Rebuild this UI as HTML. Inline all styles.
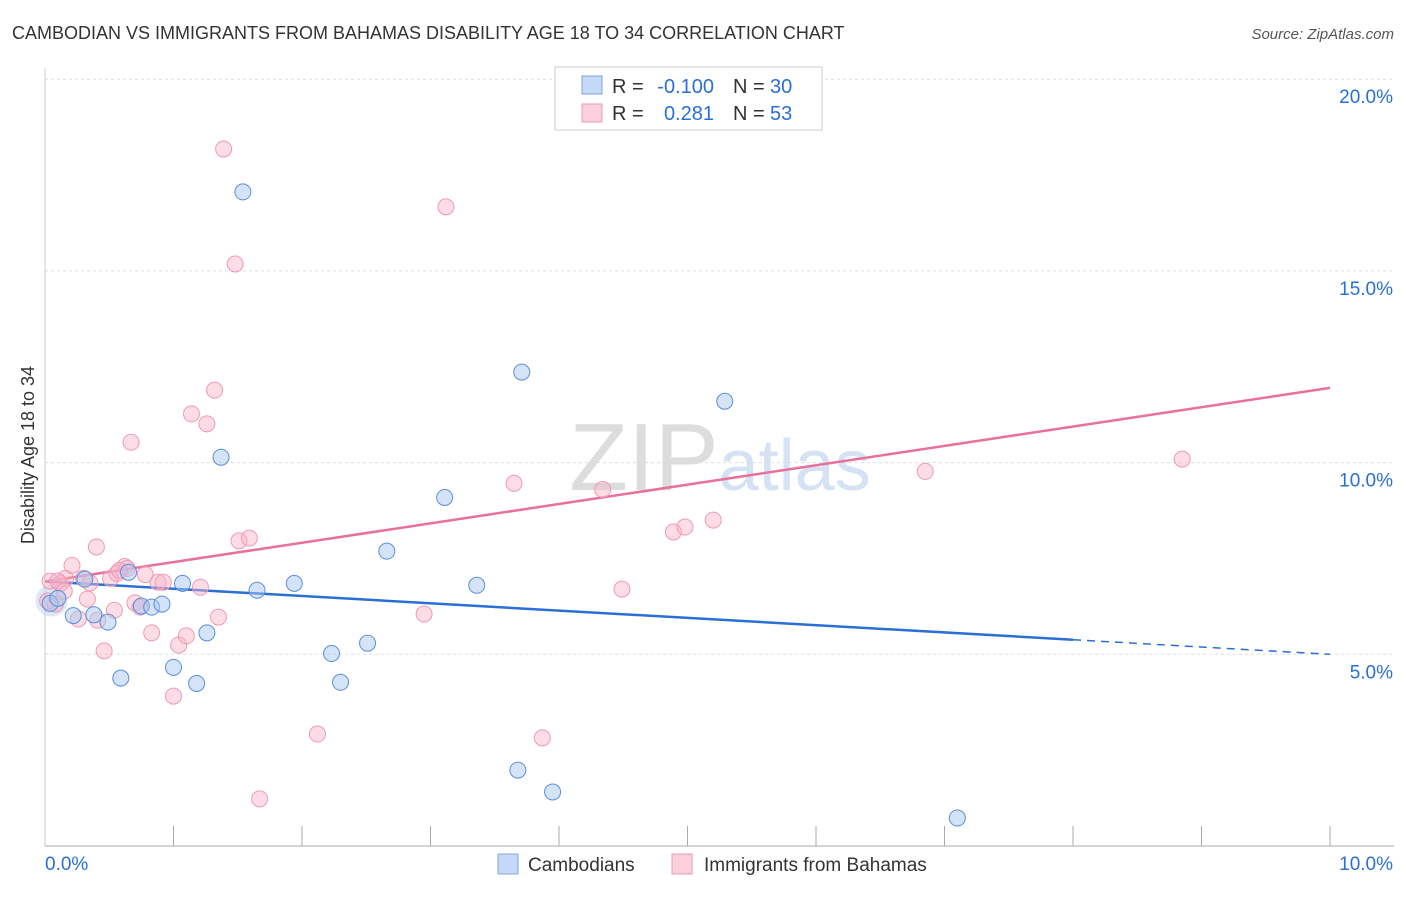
<!DOCTYPE html>
<html><head><meta charset="utf-8"><style>
body{margin:0;background:#fff;font-family:"Liberation Sans",sans-serif;}
svg text{font-family:"Liberation Sans",sans-serif;}
</style></head><body>
<svg id="chart" width="1406" height="892">
<text x="12" y="39" font-size="18" fill="#333">CAMBODIAN VS IMMIGRANTS FROM BAHAMAS DISABILITY AGE 18 TO 34 CORRELATION CHART</text>
<text x="1394" y="39" font-size="15" fill="#555" text-anchor="end" font-style="italic">Source: ZipAtlas.com</text>
<text x="720" y="490" font-size="96" fill="#ddd" text-anchor="middle" font-family="Liberation Serif">ZIP<tspan fill="#d4e2f4" font-family="Liberation Sans" font-size="72">atlas</tspan></text>
<g id="grid"></g>
<g id="axes"></g>
<g id="lines"></g>
<g id="pts"></g>
<text transform="translate(34,455) rotate(-90)" font-size="18" fill="#333" text-anchor="middle">Disability Age 18 to 34</text>
<g>
<rect x="555" y="67" width="267" height="63" fill="#fff" stroke="#ccc"/>
<rect x="582" y="76" width="20" height="18" fill="#c5d8f5" stroke="#7ea6e0"/>
<rect x="582" y="104" width="20" height="18" fill="#fbd0dc" stroke="#ef9ab4"/>
<text x="612" y="93" font-size="20" fill="#333">R =</text>
<text x="714" y="93" font-size="20" fill="#2a6fd6" text-anchor="end">-0.100</text>
<text x="733" y="93" font-size="20" fill="#333">N =</text>
<text x="770" y="93" font-size="20" fill="#2a6fd6">30</text>
<text x="612" y="120" font-size="20" fill="#333">R =</text>
<text x="714" y="120" font-size="20" fill="#2a6fd6" text-anchor="end">0.281</text>
<text x="733" y="120" font-size="20" fill="#333">N =</text>
<text x="770" y="120" font-size="20" fill="#2a6fd6">53</text>
</g>
<g>
<rect x="498" y="854" width="20" height="20" fill="#c5d8f5" stroke="#7ea6e0"/>
<text x="528" y="871" font-size="19" fill="#333">Cambodians</text>
<rect x="672" y="854" width="20" height="20" fill="#fbd0dc" stroke="#ef9ab4"/>
<text x="704" y="871" font-size="19" fill="#333">Immigrants from Bahamas</text>
</g>
</svg>
<script>
const yTicks=[5,10,15,20];
const yTickLabels=["5.0%","10.0%","15.0%","20.0%"];
const xTickLabels=["0.0%","10.0%"];
const cambX=[0.04,0.10,0.22,0.31,0.38,0.49,0.59,0.65,0.75,0.83,0.91,1.00,1.07,1.18,1.26,1.37,1.54,1.65,1.94,2.23,2.30,2.51,2.66,3.11,3.36,3.68,3.71,3.95,5.29,7.10];
const cambY=[6.33,6.46,6.01,6.96,6.03,5.84,4.38,7.14,6.26,6.23,6.31,4.66,6.85,4.24,5.56,10.14,17.06,6.67,6.85,5.02,4.27,5.29,7.69,9.09,6.80,1.98,12.36,1.41,11.60,0.73];
const bahX=[0.04,0.08,0.12,0.16,0.21,0.26,0.30,0.33,0.40,0.41,0.46,0.51,0.54,0.56,0.62,0.64,0.67,0.70,0.74,0.78,0.83,0.88,0.92,1.00,1.04,1.10,1.14,1.21,1.26,1.32,1.35,1.39,1.48,1.51,1.59,1.67,2.12,2.95,3.12,3.65,3.87,4.34,4.49,4.89,4.98,5.20,6.85,8.85,0.10,0.15,0.58,0.35,0.02];
const bahY=[6.91,6.31,6.85,6.98,7.32,5.92,6.98,6.44,7.80,5.89,5.09,6.98,6.15,7.11,7.29,7.24,10.53,6.34,6.23,7.08,5.56,6.88,6.88,3.91,5.24,5.48,11.27,6.75,11.01,11.89,5.97,18.18,15.18,7.96,8.03,1.23,2.92,6.05,16.67,9.46,2.82,9.30,6.70,8.19,8.32,8.50,9.77,10.09,6.91,6.65,7.19,6.86,6.39];
const cambTrend=[6.9,5.0];
const bahTrend=[6.9,11.95];
const X=v=>45+v*128.5, Y=v=>846-v*38.34;
const NS="http://www.w3.org/2000/svg";
function mk(tag,attrs,parent){const e=document.createElementNS(NS,tag);for(const k in attrs)e.setAttribute(k,attrs[k]);document.getElementById(parent).appendChild(e);return e;}
yTicks.forEach((t,i)=>{
 const l=mk('line',{x1:45,x2:1394,y1:Y(t),y2:Y(t),stroke:'#ddd','stroke-dasharray':'3,3'},'grid');
 
 
 const tx=mk('text',{x:1393,y:Y(t)+24,'font-size':19,fill:'#2a6fd6','text-anchor':'end'},'axes');
 tx.textContent=yTickLabels[i];
 
 
});
const ax=mk('line',{x1:45,x2:1394,y1:846,y2:846,stroke:'#aaa'},'axes');


const ay=mk('line',{x1:45,x2:45,y1:68,y2:846,stroke:'#ccc'},'axes');


for(let i=1;i<=10;i++){const tk=mk('line',{x1:X(i),x2:X(i),y1:826,y2:846,stroke:'#aaa'},'axes');
 
 }
[[0,'start'],[10,'end']].forEach((p,i)=>{const t=mk('text',{x:i?1393:45,y:870,'font-size':19,fill:'#2a6fd6','text-anchor':p[1]},'axes');t.textContent=xTickLabels[i];
 
 });
const bv=x=>cambTrend[0]+(cambTrend[1]-cambTrend[0])*x/10;
const pv=x=>bahTrend[0]+(bahTrend[1]-bahTrend[0])*x/10;
let l1=mk('line',{x1:X(0),y1:Y(bv(0)),x2:X(8),y2:Y(bv(8)),stroke:'#2a6fd6','stroke-width':2.5},'lines');


let l2=mk('line',{x1:X(8),y1:Y(bv(8)),x2:X(10),y2:Y(bv(10)),stroke:'#2a6fd6','stroke-width':1.5,'stroke-dasharray':'8,6'},'lines');


let l3=mk('line',{x1:X(0),y1:Y(pv(0)),x2:X(10),y2:Y(pv(10)),stroke:'#e8709a','stroke-width':2.5},'lines');


const big=mk('circle',{cx:X(0.05),cy:Y(6.4),r:16,fill:'rgba(160,190,235,0.35)',stroke:'none'},'pts');


bahX.forEach((x,i)=>{const c=mk('circle',{cx:X(x),cy:Y(bahY[i]),r:8,fill:'rgba(248,180,200,0.45)',stroke:'#ef9ab4','stroke-width':1},'pts');
 
 });
cambX.forEach((x,i)=>{const c=mk('circle',{cx:X(x),cy:Y(cambY[i]),r:8,fill:'rgba(170,200,240,0.5)',stroke:'#5b8fd8','stroke-width':1},'pts');
 
 });
</script>
</body></html>
